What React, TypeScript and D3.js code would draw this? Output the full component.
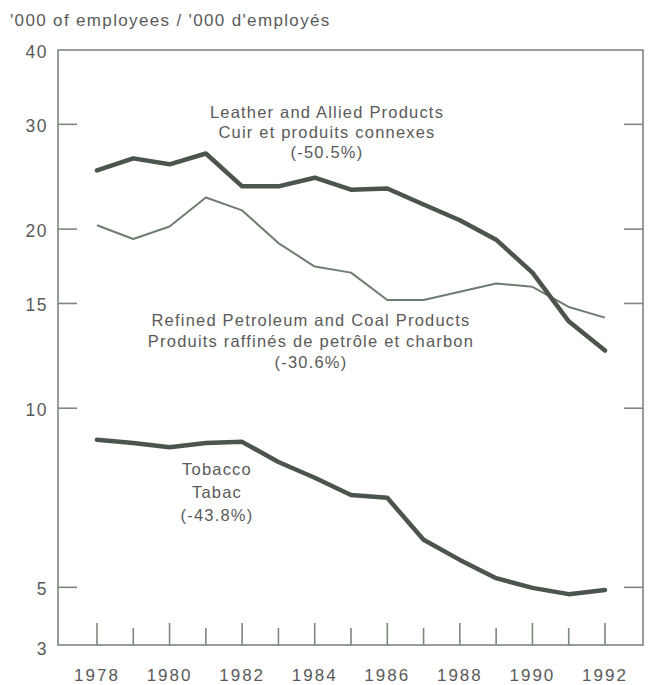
import React from "react";
import * as d3 from "d3";

const years = [1978, 1979, 1980, 1981, 1982, 1983, 1984, 1985, 1986, 1987, 1988, 1989, 1990, 1991, 1992];
const leather = [25.1, 26.3, 25.7, 26.8, 23.6, 23.6, 24.4, 23.3, 23.4, 22.0, 20.7, 19.2, 16.9, 14.0, 12.5];
const petroleum = [20.3, 19.25, 20.2, 22.6, 21.5, 18.95, 17.3, 16.9, 15.2, 15.2, 15.7, 16.2, 16.0, 14.8, 14.2];
const tobacco = [8.85, 8.74, 8.6, 8.74, 8.78, 8.12, 7.64, 7.15, 7.07, 6.01, 5.56, 5.18, 4.99, 4.87, 4.95];
const yTickLabels = [3, 5, 10, 15, 20, 30, 40];
const xTickLabels = [1978, 1980, 1982, 1984, 1986, 1988, 1990, 1992];
const title = "'000 of employees / '000 d'employés";
const leatherLabel = ["Leather and Allied Products", "Cuir et produits connexes", "(-50.5%)"];
const petroleumLabel = ["Refined Petroleum and Coal Products", "Produits raffinés de petrôle et charbon", "(-30.6%)"];
const tobaccoLabel = ["Tobacco", "Tabac", "(-43.8%)"];

const W = 651, H = 685;
const left = 58, right = 643, top = 50, bottom = 645;
const axisColor = "#7c887c";
const textColor = "#5a5a5a";
const font = "'Liberation Sans', Arial, Helvetica, sans-serif";

export default function App() {
  const x = d3.scaleLinear().domain([1978, 1992]).range([97, 605]);
  const y = d3.scaleLog().domain([4, 40]).range([bottom, top]).clamp(true);
  const line = (vals: number[]) =>
    d3.line<number>().x((_, i) => x(years[i])).y((d) => y(d)).curve(d3.curveLinear)(vals) || "";

  const innerTicks = yTickLabels.filter((v) => y(v) > top + 1 && y(v) < bottom - 1);

  const label = (lines: string[], cx: number, y0: number, dy: number) => (
    <text x={cx} y={y0} textAnchor="middle" fontFamily={font} fontSize={16.5} fill={textColor} letterSpacing={1.2}>
      {lines.map((l, i) => (
        <tspan key={i} x={cx} dy={i === 0 ? 0 : dy}>{l}</tspan>
      ))}
    </text>
  );

  return (
    <svg width={W} height={H} style={{ position: "absolute", left: 0, top: 0, background: "#fff" }}>
      <rect x={0} y={0} width={W} height={H} fill="#fff" />
      <text x={10} y={26} fontFamily={font} fontSize={17} fill={textColor} letterSpacing={1.35}>{title}</text>
      {/* frame */}
      <rect x={left} y={top} width={right - left} height={bottom - top} fill="none" stroke={axisColor} strokeWidth={1.6} />
      {/* y ticks */}
      {innerTicks.map((v) => (
        <g key={v}>
          <line x1={left} x2={left + 19} y1={y(v)} y2={y(v)} stroke={axisColor} strokeWidth={1.6} />
          <line x1={right - 19} x2={right} y1={y(v)} y2={y(v)} stroke={axisColor} strokeWidth={1.6} />
        </g>
      ))}
      {yTickLabels.map((v) => (
        <text key={v} x={48} y={y(v) + (v === 3 ? 10 : 8)} textAnchor="end" fontFamily={font} fontSize={17.5} fill={textColor} letterSpacing={1.5}>{v}</text>
      ))}
      {/* x ticks */}
      {years.map((yr) => (
        <line key={yr} x1={x(yr)} x2={x(yr)} y1={bottom} y2={bottom - ((yr - 1978) % 2 === 0 ? 22 : 17)} stroke={axisColor} strokeWidth={1.6} />
      ))}
      {xTickLabels.map((yr) => (
        <text key={yr} x={x(yr)} y={681} textAnchor="middle" fontFamily={font} fontSize={17} fill={textColor} letterSpacing={2}>{yr}</text>
      ))}
      {/* series */}
      <path d={line(petroleum)} fill="none" stroke="#6f7d6f" strokeWidth={2} strokeLinejoin="round" />
      <path d={line(leather)} fill="none" stroke="#4b554b" strokeWidth={4.5} strokeLinejoin="round" strokeLinecap="round" />
      <path d={line(tobacco)} fill="none" stroke="#4b554b" strokeWidth={4.5} strokeLinejoin="round" strokeLinecap="round" />
      {label(leatherLabel, 327, 118, 20)}
      {label(petroleumLabel, 311, 326, 21)}
      {label(tobaccoLabel, 217, 475, 23)}
    </svg>
  );
}
